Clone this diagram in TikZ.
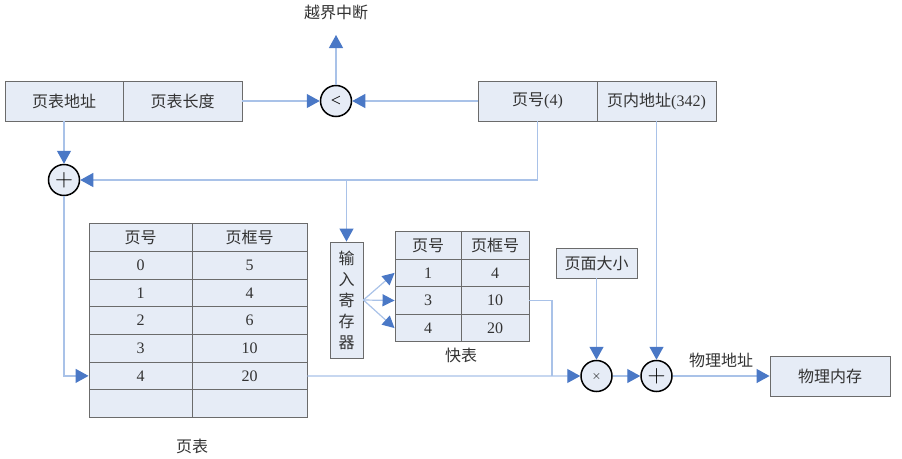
\documentclass[tikz,border=0pt]{standalone}
\usepackage{fontspec}
\setmainfont{Liberation Serif}
\newfontfamily\cjk{Noto Sans CJK SC}
\newcommand{\zh}[1]{{\cjk #1}}
\usetikzlibrary{arrows.meta,positioning}
\definecolor{ink}{HTML}{333333}
\definecolor{edge}{HTML}{6B6B6B}
\definecolor{cellfill}{HTML}{E6ECF6}
\definecolor{wirecol}{HTML}{A9C2E8}
\definecolor{tipcol}{HTML}{4A78C6}
\tikzset{
  cell/.style={draw=edge, line width=0.9pt, fill=cellfill, inner sep=0pt, text=ink, align=center, font=\fontsize{16}{18}\selectfont},
  op/.style={circle, draw=black, line width=1.5pt, fill=cellfill, minimum size=31pt, inner sep=0pt},
  label/.style={text=ink, font=\cjk\fontsize{16}{18}\selectfont},
  wire/.style={draw=wirecol, line width=1.2pt},
  arrow/.style={wire, -{Triangle[length=13pt,width=14pt,color=tipcol]}},
  smallarrow/.style={wire, -{Triangle[length=12pt,width=12pt,color=tipcol]}}
}

\begin{document}
\begin{tikzpicture}[x=1pt,y=-1pt]
\useasboundingbox (0,0) rectangle (902,458);
% logical address and page table register
\node[cell, minimum width=118pt, minimum height=40pt] (base) at (64,101) {\zh{页表地址}};
\node[cell, minimum width=119pt, minimum height=40pt] (len) at (182.5,101) {\zh{页表长度}};
\node[cell, minimum width=119pt, minimum height=40pt] (pno) at (537.5,101) {\zh{页号}(4)};
\node[cell, minimum width=119pt, minimum height=40pt] (off) at (656.5,101) {\zh{页内地址}(342)};
% operators
\node[op, font=\fontsize{18}{18}\selectfont] (lt) at (336,101) {<};
\node[op] (add1) at (64,180) {\fontsize{24}{24}\selectfont$+$};
\node[op] (mul) at (596.5,376) {\fontsize{13}{13}\selectfont$\times$};
\node[op] (add2) at (656.5,376) {\fontsize{24}{24}\selectfont$+$};
\node[label] (oob) at (336,12) {越界中断};
\coordinate (oobtip) at (336,35);
% page table
\node[cell, minimum width=103pt, minimum height=27.7pt] (p0a) at (140.5,237.4) {\zh{页号}};
\node[cell, minimum width=115pt, minimum height=27.7pt] (p0b) at (249.5,237.4) {\zh{页框号}};
\node[cell, minimum width=103pt, minimum height=27.7pt] (p1a) at (140.5,265.1) {0};
\node[cell, minimum width=115pt, minimum height=27.7pt] (p1b) at (249.5,265.1) {5};
\node[cell, minimum width=103pt, minimum height=27.7pt] (p2a) at (140.5,292.8) {1};
\node[cell, minimum width=115pt, minimum height=27.7pt] (p2b) at (249.5,292.8) {4};
\node[cell, minimum width=103pt, minimum height=27.7pt] (p3a) at (140.5,320.5) {2};
\node[cell, minimum width=115pt, minimum height=27.7pt] (p3b) at (249.5,320.5) {6};
\node[cell, minimum width=103pt, minimum height=27.7pt] (p4a) at (140.5,348.2) {3};
\node[cell, minimum width=115pt, minimum height=27.7pt] (p4b) at (249.5,348.2) {10};
\node[cell, minimum width=103pt, minimum height=27.7pt] (p5a) at (140.5,375.9) {4};
\node[cell, minimum width=115pt, minimum height=27.7pt] (p5b) at (249.5,375.9) {20};
\node[cell, minimum width=103pt, minimum height=27.7pt] (p6a) at (140.5,403.6) {};
\node[cell, minimum width=115pt, minimum height=27.7pt] (p6b) at (249.5,403.6) {};
\node[label] (ptname) at (192,446) {页表};
% input register and fast table
\node[cell, minimum width=33pt, minimum height=116pt, font=\cjk\fontsize{16}{21}\selectfont] (reg) at (346.5,300) {输\\入\\寄\\存\\器};
\node[cell, minimum width=66pt, minimum height=27.6pt] (f0a) at (428,245.3) {\zh{页号}};
\node[cell, minimum width=68pt, minimum height=27.6pt] (f0b) at (495,245.3) {\zh{页框号}};
\node[cell, minimum width=66pt, minimum height=27.6pt] (f1a) at (428,272.9) {1};
\node[cell, minimum width=68pt, minimum height=27.6pt] (f1b) at (495,272.9) {4};
\node[cell, minimum width=66pt, minimum height=27.6pt] (f2a) at (428,300.5) {3};
\node[cell, minimum width=68pt, minimum height=27.6pt] (f2b) at (495,300.5) {10};
\node[cell, minimum width=66pt, minimum height=27.6pt] (f3a) at (428,328.1) {4};
\node[cell, minimum width=68pt, minimum height=27.6pt] (f3b) at (495,328.1) {20};
\node[label] (ftname) at (461,355) {快表};
% page size and memory
\node[cell, minimum width=81pt, minimum height=30pt] (size) at (596.5,263) {\zh{页面大小}};
\node[cell, minimum width=120pt, minimum height=40pt] (mem) at (830,376) {\zh{物理内存}};
\coordinate (merge) at (552,376);
% connectors
\draw[arrow] (len.east) -- (lt.west);
\draw[arrow] (pno.west) -- (lt.east);
\draw[arrow] (lt.north) -- (oobtip);
\draw[arrow] (base.south) -- (add1.north);
\draw[arrow] (pno.south) |- (add1.east);
\draw[arrow] (reg.north |- add1) -- (reg.north);
\draw[arrow] (add1.south) |- (p5a.west);
\draw[smallarrow] (reg.east) -- (f1a.west);
\draw[smallarrow] (reg.east) -- (f2a.west);
\draw[smallarrow] (reg.east) -- (f3a.west);
\draw[arrow] (p5b.east) -- (mul.west);
\draw[wire] (f2b.east) -| (merge);
\draw[arrow] (size.south) -- (mul.north);
\draw[arrow] (mul.east) -- (add2.west);
\draw[arrow] (off.south) -- (add2.north);
\draw[arrow] (add2.east) -- node[label, above=4pt]{物理地址} (mem.west);
\end{tikzpicture}
\end{document}
